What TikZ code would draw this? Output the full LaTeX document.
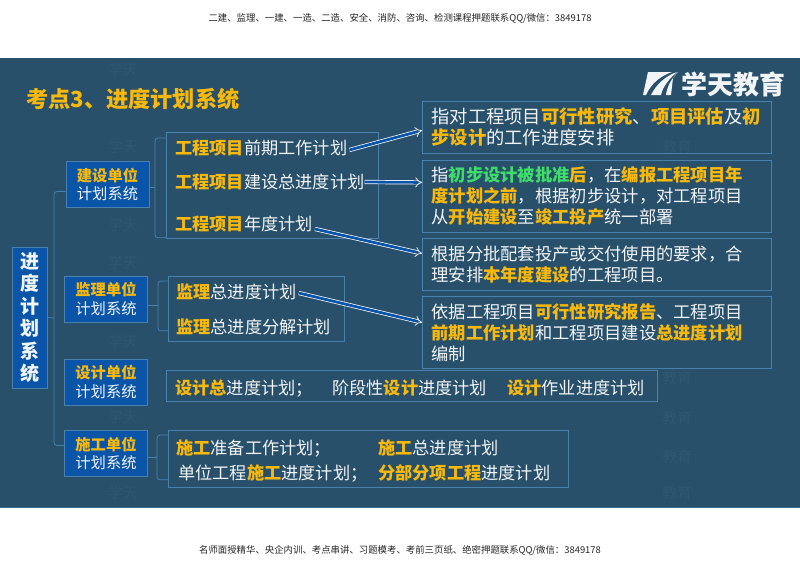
\documentclass[tikz,border=0pt]{standalone}
\usepackage{fontspec}
\setmainfont{Noto Sans CJK SC}
\usetikzlibrary{arrows.meta}
\definecolor{panelbg}{HTML}{28506B}
\definecolor{markbg}{HTML}{2E5771}
\definecolor{unitblue}{HTML}{0B55A9}
\definecolor{edgeblue}{HTML}{4A80AC}
\definecolor{hlorange}{HTML}{F8B90C}
\definecolor{hlgreen}{HTML}{3FDC6A}
\definecolor{textwhite}{HTML}{F2F5F7}
\newcommand{\hl}[1]{{\bfseries\color{hlorange}#1}}
\newcommand{\hg}[1]{{\bfseries\color{hlgreen}#1}}
\tikzset{
unitbox/.style={draw=edgeblue,fill=unitblue,text=textwhite,line width=0.8pt,minimum width=83pt,minimum height=46pt,inner sep=0pt,align=center,font=\fontsize{15.3}{18.5}\selectfont},
planbox/.style={draw=edgeblue,line width=0.8pt,anchor=north west,inner sep=0pt},
infobox/.style={draw=edgeblue,line width=0.8pt,text=textwhite,minimum width=349pt,inner ysep=0pt,inner xsep=9pt,text width=331pt,align=left,anchor=north west,font=\fontsize{17.3}{21}\selectfont},
item/.style={text=textwhite,anchor=west,inner sep=0pt,font=\fontsize{17.2}{20}\selectfont},
link/.style={draw=edgeblue,line width=0.8pt,rounded corners=3pt},
pointer/.style={draw=white,double=unitblue,double distance=2.8pt,line width=0.7pt,-{Implies}},
note/.style={text=black!85,inner sep=0pt,font=\fontsize{9.4}{11}\selectfont},
}
\begin{document}
\begin{tikzpicture}[x=1pt,y=-1pt]
\useasboundingbox (0,0) rectangle (800,566);

%%%% page
%%%%
\fill[white] (0,0) rectangle (800,566);
\fill[panelbg] (0,58) rectangle (800,507);
\fill[edgeblue!60!panelbg] (0,506.5) rectangle (800,507.5);
\node[note] (header) at (400,18) {二建、监理、一建、一造、二造、安全、消防、咨询、检测课程押题联系QQ/微信：3849178};
\node[note] (footer) at (400,550) {名师面授精华、央企内训、考点串讲、习题模考、考前三页纸、绝密押题联系QQ/微信：3849178};

%%%% watermark
%%%%
\foreach \y in{70,147,225,263,342,417,493}{
\node[markbg,font=\fontsize{15}{15}\selectfont,inner sep=0pt] at (123,\y) {学天};
}
\foreach \y in{147,378,418,457,493}{
\node[markbg,font=\fontsize{15}{15}\selectfont,inner sep=0pt] at (677,\y) {教育};
}

%%%% title and logo
%%%%
\node[anchor=west,inner sep=0pt,font=\fontsize{22.2}{24}\selectfont\bfseries,text=hlorange] (title) at (26,99) {考点3、进度计划系统};
\node[anchor=west,inner sep=0pt,font=\fontsize{26}{28}\selectfont\bfseries,text=textwhite] (brand) at (681,84) {学天教育};
\fill[textwhite] (648,72) -- (672,72) .. controls (660,76) and (651,84) .. (646,95) -- (643,95) -- cycle;
\fill[textwhite] (677,72) .. controls (665,76) and (656,85) .. (651,95) -- (661,95) .. controls (663,86) and (670,78) .. (677,72);
\fill[textwhite] (678,72) .. controls (671,79) and (667,87) .. (666,95) -- (671,95) -- (673,78) -- cycle;

%%%% units
%%%%
\node[draw=edgeblue,fill=unitblue,text=textwhite,line width=0.8pt,minimum width=35pt,minimum height=141pt,inner sep=0pt,align=center,font=\fontsize{19}{22.4}\selectfont\bfseries] (root) at (29.5,317.5) {进\\度\\计\\划\\系\\统};
\foreach \name \x \y \txt in{
jsunit/107.5/184.5/建设单位,jlunit/106/299/监理单位,sjunit/106/382/设计单位,sgunit/106/453.5/施工单位%
}{
\node[unitbox] (\name) at (\x,\y) {\hl{\txt}\\计划系统};
}

%%%% plan boxes
%%%%
\node[planbox,minimum width=212pt,minimum height=106pt] (jsplan) at (166,132) {};
\node[planbox,minimum width=176pt,minimum height=65pt] (jlplan) at (168,276) {};
\node[planbox,minimum width=491pt,minimum height=31pt] (sjplan) at (166,370) {};
\node[planbox,minimum width=400pt,minimum height=57pt] (sgplan) at (168,430) {};

\node[item] (jsa) at (175,148) {\hl{工程项目}前期工作计划};
\node[item] (jsb) at (175,182) {\hl{工程项目}建设总进度计划};
\node[item] (jsc) at (175,224) {\hl{工程项目}年度计划};
\node[item] (jla) at (176,292) {\hl{监理}总进度计划};
\node[item] (jlb) at (176,327) {\hl{监理}总进度分解计划};
\node[item] (sja) at (175,388) {\hl{设计总}进度计划；};
\node[item] (sjb) at (332,388) {阶段性\hl{设计}进度计划};
\node[item] (sjc) at (507,388) {\hl{设计}作业进度计划};
\node[item] (sga) at (176,448) {\hl{施工}准备工作计划；};
\node[item] (sgb) at (378,448) {\hl{施工}总进度计划};
\node[item] (sgc) at (178,473) {单位工程\hl{施工}进度计划；};
\node[item] (sgd) at (378,473) {\hl{分部分项工程}进度计划};

%%%% right column
%%%%
\node[infobox,minimum height=52pt,font=\fontsize{18.3}{21}\selectfont] (rta) at (422,101) {指对工程项目\hl{可行性研究}、\hl{项目评估}及\hl{初}\\\hl{步设计}的工作进度安排};
\node[infobox,minimum height=72pt] (rtb) at (422,160) {指\hg{初步设计被批准}\hl{后}，在\hl{编报工程项目年}\\\hl{度计划之前}，根据初步设计，对工程项目\\从\hl{开始建设}至\hl{竣工投产}统一部署};
\node[infobox,minimum height=52pt] (rtc) at (422,238) {根据分批配套投产或交付使用的要求，合\\理安排\hl{本年度建设}的工程项目。};
\node[infobox,minimum height=72pt] (rtd) at (422,296) {依据工程项目\hl{可行性研究报告}、工程项目\\\hl{前期工作计划}和工程项目建设\hl{总进度计划}\\编制};

%%%% connectors
%%%%
\coordinate (trunk) at (54,318);
\draw[link] (root.east) -- (trunk);
\draw[link] ([yshift=-7pt]jsunit.west) -| (trunk) |- ([yshift=8pt]sgunit.west);

\coordinate (jsfork) at (155,187);
\coordinate (jlfork) at (158,305);
\coordinate (sgfork) at (157,457);
\draw[link] (jsunit.east|-jsfork) -- (jsfork);
\draw[link] (jlunit.east|-jlfork) -- (jlfork);
\draw[link] (sgunit.east|-sgfork) -- (sgfork);
\draw[link] ([yshift=-6pt]jsplan.north west) -| (jsfork) |- ([yshift=1pt]jsplan.south west);
\draw[link] ([yshift=-5pt]jlplan.north west) -| (jlfork) |- ([yshift=11pt]jlplan.south west);
\draw[link] ([yshift=-5pt]sgplan.north west) -| (sgfork) |- ([yshift=8pt]sgplan.south west);

\draw[pointer] ([xshift=2pt,yshift=-2pt]jsa.east) -- ([yshift=-3pt]rta.west);
\draw[pointer] (jsb.east) -- ([yshift=14pt]rtb.west);
\draw[pointer] ([xshift=2pt,yshift=-5pt]jsc.east) -- ([yshift=11pt]rtc.west);
\draw[pointer] ([xshift=2pt,yshift=-1pt]jla.east) -- ([yshift=10pt]rtd.west);

\end{tikzpicture}
\end{document}
